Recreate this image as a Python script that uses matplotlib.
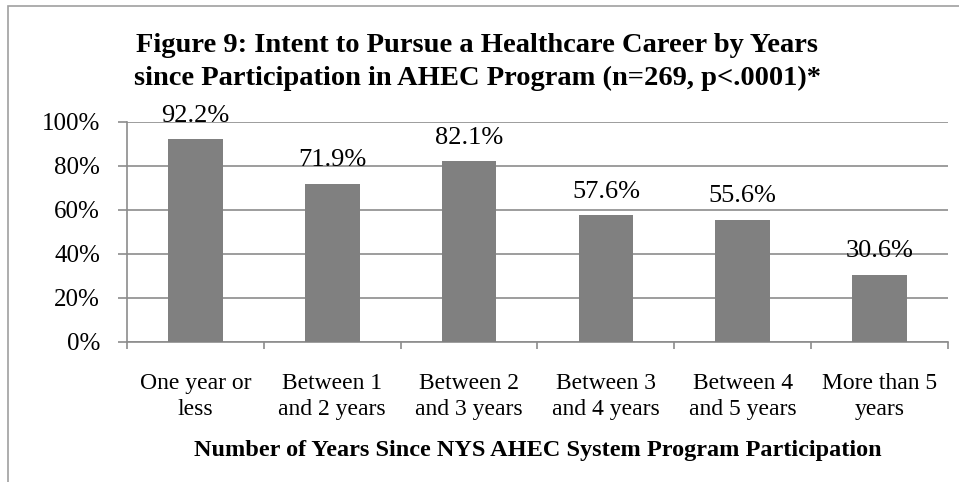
import matplotlib
matplotlib.use("Agg")
import matplotlib.pyplot as plt
from matplotlib.patches import Rectangle

categories = ["One year or\nless", "Between 1\nand 2 years", "Between 2\nand 3 years",
              "Between 3\nand 4 years", "Between 4\nand 5 years", "More than 5\nyears"]
values = [92.2, 71.9, 82.1, 57.6, 55.6, 30.6]
yticks = [0, 20, 40, 60, 80, 100]

plt.rcParams['font.family'] = ['Liberation Serif', 'DejaVu Serif']

fig = plt.figure(figsize=(9.59, 4.82), dpi=100)
ax = fig.add_axes([127/959, 1 - 342/482, (948 - 127)/959, (342 - 122)/482])

# chart border
fig.patches.append(Rectangle((8/959, -0.01), 1.0, 1 - 6/482 + 0.01, transform=fig.transFigure,
                             fill=False, edgecolor='#a0a0a0', lw=1.2))

x = range(len(categories))
ax.bar(x, values, width=0.4, color='#808080', zorder=3)
for xi, v in zip(x, values):
    ax.annotate(f"{v:.1f}%", (xi, v), xytext=(0, 9), textcoords='offset points',
                ha='center', va='bottom', fontsize=19)

ax.set_xlim(-0.5, len(categories) - 0.5)
ax.set_ylim(0, 100)
ax.set_yticks(yticks)
ax.set_yticklabels([f"{t}%" for t in yticks], fontsize=18)
ax.yaxis.grid(True, color='#8c8c8c', lw=1.2, zorder=0)
ax.set_xticks([i - 0.5 for i in range(len(categories) + 1)], minor=False)
ax.set_xticklabels([])
ax.set_xticks(list(x), minor=True)
ax.set_xticklabels(categories, minor=True, fontsize=17, linespacing=1.36)
ax.tick_params(axis='x', which='major', length=5, color='#8c8c8c', width=1.2)
ax.tick_params(axis='x', which='minor', length=0, pad=22)
ax.tick_params(axis='y', length=6.5, color='#8c8c8c', width=1.2, pad=13)

for s in ['top', 'right']:
    ax.spines[s].set_visible(False)
for s in ['left', 'bottom']:
    ax.spines[s].set_color('#8c8c8c')
    ax.spines[s].set_linewidth(1.2)

ax.set_xlabel("Number of Years Since NYS AHEC System Program Participation",
              fontsize=17.5, fontweight='bold', labelpad=14)

fig.text(477/959, 1 - 62/482, "Figure 9: Intent to Pursue a Healthcare Career by Years\n"
         "since Participation in AHEC Program (n=269, p<.0001)*",
         ha='center', va='center', fontsize=20.5, fontweight='bold', linespacing=1.45)

fig.savefig("out.png", dpi=100)
